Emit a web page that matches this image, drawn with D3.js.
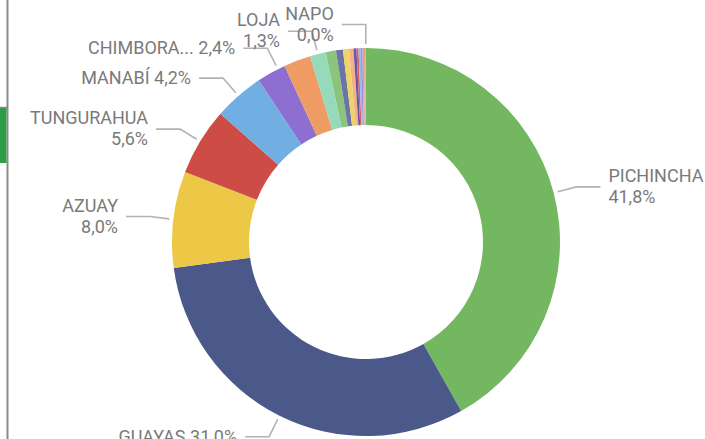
<!DOCTYPE html>
<html><head><meta charset="utf-8">
<script src="https://cdn.jsdelivr.net/npm/d3@7"></script>
<style>html,body{margin:0;padding:0;background:#fff;overflow:hidden}</style>
</head><body>
<svg id="chart" width="705" height="439"></svg>
<script>
const categories = ["PICHINCHA","GUAYAS","AZUAY","TUNGURAHUA","MANABÍ","CHIMBORAZO","EL ORO","LOJA","IMBABURA","SANTO DOMINGO","COTOPAXI","ESMERALDAS","LOS RÍOS","SANTA ELENA","CAÑAR","ORELLANA","SUCUMBÍOS","PASTAZA","GALÁPAGOS","NAPO"];
const shares = [41.84,31.02,8.01,5.62,4.19,2.42,2.25,1.31,0.86,0.58,0.50,0.37,0.24,0.17,0.17,0.15,0.13,0.09,0.05,0.03];
const sliceColors = ["#73B761","#4A588A","#ECC846","#CD4C46","#71AFE2","#8D6FD1","#EE9C64","#95DABB","#8DC47D","#6A74A6","#F0D26A","#F2B383","#6B52B0","#DB5F59","#8CBDE8","#A48CDC","#B7A6C9","#E8A07A","#9A9AB5","#C2B0E6"];
const labeledCategories = ["PICHINCHA","GUAYAS","AZUAY","TUNGURAHUA","MANABÍ","CHIMBORAZO","LOJA","NAPO"];

// label layout tweaks (not data)
const labelLayout = {
  "GUAYAS": {lines: 1},
  "MANABÍ": {lines: 1},
  "CHIMBORAZO": {lines: 1, maxChars: 8, angleShiftDeg: 2.2}
};

const svg = d3.select("#chart");
const W = 705, H = 439;
const cx = 366, cy = 242, R = 194, r0 = 117;

// page decoration on left edge
svg.append("line").attr("x1", 7.5).attr("x2", 7.5).attr("y1", 0).attr("y2", H)
  .attr("stroke", "#8a8a8a").attr("stroke-width", 2);
svg.append("rect").attr("x", 0).attr("y", 108).attr("width", 6.5).attr("height", 55).attr("fill", "#2F9B47");
svg.append("line").attr("x1", 0).attr("x2", 7).attr("y1", 107.5).attr("y2", 107.5)
  .attr("stroke", "#8a8a8a").attr("stroke-width", 1.5);

const data = categories.map((c, i) => ({name: c, value: shares[i], color: sliceColors[i]}));
const total = d3.sum(shares);
const locale = d3.formatLocale({decimal: ",", thousands: ".", grouping: [3], currency: ["", ""]});
const fmtPct = locale.format(".1%");

const pie = d3.pie().sort(null).value(d => d.value).startAngle(0).endAngle(2 * Math.PI);
const arcs = pie(data);
const arc = d3.arc().innerRadius(r0).outerRadius(R);

const g = svg.append("g").attr("transform", `translate(${cx},${cy})`);
g.selectAll("path.slice").data(arcs).enter().append("path")
  .attr("class", "slice")
  .attr("d", arc)
  .attr("fill", d => d.data.color);

const pt = (a, rad) => [rad * Math.sin(a), -rad * Math.cos(a)];

const labelG = g.append("g");
arcs.filter(d => labeledCategories.includes(d.data.name)).forEach(d => {
  const lay = labelLayout[d.data.name] || {};
  let mid = (d.startAngle + d.endAngle) / 2 + (lay.angleShiftDeg || 0) * Math.PI / 180;
  const P = pt(mid, R + 4);
  const E = pt(mid, R + 23.5);
  const right = E[0] > 0.01;
  const endX = E[0] + (right ? 24 : -24);
  labelG.append("polyline")
    .attr("points", [P, E, [endX, E[1]]].map(p => p.join(",")).join(" "))
    .attr("fill", "none").attr("stroke", "#b3b3b3").attr("stroke-width", 1.6);
  let name = d.data.name;
  if (lay.maxChars && name.length > lay.maxChars) name = name.slice(0, lay.maxChars) + "...";
  const pctTxt = fmtPct(d.data.value / total);
  const tx = endX + (right ? 8 : -8);
  const t = labelG.append("text")
    .attr("x", tx)
    .attr("text-anchor", right ? "start" : "end")
    .attr("font-family", "Roboto, sans-serif")
    .attr("font-size", 18)
    .attr("fill", "#7a7a7a");
  if (lay.lines === 1) {
    t.append("tspan").attr("x", tx).attr("y", E[1] + 6).text(name + " " + pctTxt);
  } else {
    t.append("tspan").attr("x", tx).attr("y", E[1] - 5).text(name);
    t.append("tspan").attr("x", tx).attr("y", E[1] + 16).text(pctTxt);
  }
});
</script>
</body></html>
